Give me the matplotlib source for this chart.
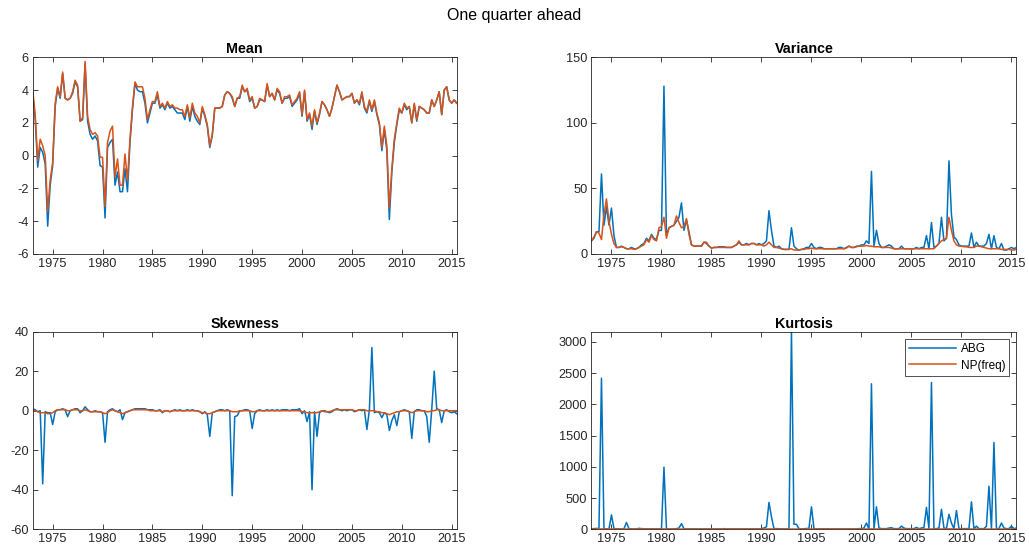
import matplotlib
matplotlib.use("Agg")
import matplotlib.pyplot as plt
import numpy as np

plt.rcParams['font.family'] = ['Liberation Sans', 'DejaVu Sans']
plt.rcParams['axes.unicode_minus'] = False

# quarterly dates, 1973Q1 .. 2015Q3
quarters = 1973 + 0.25 * np.arange(171)

# --- Mean ---
mean_abg = [
    3.8, 2.2, -0.7, 0.5,   0.2, -0.5, -4.3, -1.8,   -0.6, 3.0, 4.1, 3.5,
    5.0, 3.5, 3.4, 3.5,    3.8, 4.5, 4.2, 2.1,      2.2, 5.6, 2.1, 1.3,
    1.0, 1.2, 0.9, -0.6,   -0.7, -3.8, 0.5, 0.8,    1.0, -1.8, -1.0, -2.2,
    -2.2, -0.8, -2.2, 0.8, 2.8, 4.4, 4.0, 3.9,      3.9, 3.2, 2.0, 2.6,
    3.2, 3.2, 3.7, 2.9,    3.1, 2.8, 3.2, 2.9,      3.0, 2.8, 2.6, 2.6,
    2.6, 2.2, 3.0, 2.1,    3.0, 2.4, 2.1, 1.9,      2.9, 2.4, 1.8, 0.5,
    1.2, 2.9, 2.9, 2.9,    3.0, 3.7, 3.9, 3.8,      3.5, 3.0, 3.5, 3.5,
    4.2, 3.9, 4.0, 3.3,    3.5, 2.9, 3.0, 3.4,      3.4, 3.3, 4.3, 3.6,
    3.8, 3.4, 4.0, 3.8,    3.2, 3.5, 3.5, 3.6,      3.0, 3.2, 3.4, 3.8,
    2.4, 3.9, 2.1, 2.5,    1.6, 2.7, 1.9, 2.5,      3.3, 3.1, 2.8, 2.4,
    2.9, 3.6, 4.3, 3.9,    3.4, 3.5, 3.6, 3.6,      3.8, 3.2, 3.4, 3.1,
    3.8, 2.9, 2.6, 3.3,    2.7, 3.3, 2.5, 1.9,      0.3, 1.6, 0.3, -3.9,
    -1.0, 0.8, 1.9, 2.8,   2.6, 3.1, 2.8, 3.0,      2.0, 3.1, 2.1, 3.0,
    2.9, 2.8, 2.6, 2.6,    3.4, 3.0, 3.4, 3.9,      2.5, 4.0, 4.2, 3.4,
    3.2, 3.4, 3.2,
]
mean_np = [
    4.0, 2.5, -0.3, 1.0,   0.6, 0.0, -3.4, -1.5,    -0.4, 3.2, 4.2, 3.6,
    5.1, 3.5, 3.4, 3.5,    3.9, 4.6, 4.3, 2.1,      2.3, 5.75, 2.4, 1.6,
    1.3, 1.4, 1.2, -0.1,   -0.1, -3.1, 0.8, 1.5,    1.8, -1.3, -0.2, -1.8,
    -1.8, 0.1, -1.5, 1.0,  3.0, 4.5, 4.2, 4.2,      4.2, 3.5, 2.2, 2.8,
    3.3, 3.3, 3.9, 3.0,    3.2, 2.9, 3.3, 3.0,      3.1, 2.9, 2.9, 2.8,
    2.8, 2.4, 3.1, 2.3,    3.2, 2.6, 2.4, 2.0,      3.0, 2.5, 1.9, 0.6,
    1.3, 2.9, 2.9, 2.9,    3.0, 3.7, 3.9, 3.8,      3.6, 3.0, 3.5, 3.6,
    4.3, 3.9, 4.1, 3.4,    3.6, 2.9, 3.0, 3.5,      3.4, 3.3, 4.4, 3.6,
    3.8, 3.4, 4.1, 3.9,    3.2, 3.6, 3.6, 3.7,      3.1, 3.3, 3.5, 3.9,
    2.5, 4.0, 2.2, 2.6,    1.8, 2.8, 2.0, 2.6,      3.3, 3.1, 2.8, 2.4,
    2.9, 3.6, 4.3, 3.9,    3.4, 3.5, 3.6, 3.6,      3.8, 3.2, 3.4, 3.2,
    3.9, 3.0, 2.7, 3.4,    2.8, 3.4, 2.6, 2.0,      0.5, 1.8, 0.6, -3.2,
    -0.8, 1.0, 2.0, 2.9,   2.6, 3.2, 2.9, 3.0,      2.0, 3.2, 2.2, 3.0,
    2.9, 2.8, 2.6, 2.6,    3.4, 3.0, 3.4, 3.9,      2.5, 4.0, 4.2, 3.4,
    3.2, 3.4, 3.2,
]

# --- Variance ---
var_abg = [
    10, 12, 17, 17,   61, 22, 36, 22,    35, 14, 5, 5,
    6, 5, 4, 4,       5, 4, 4, 5,        7, 8, 12, 10,
    15, 12, 11, 18,   18, 128, 14, 20,   21, 22, 25, 28,
    39, 18, 26, 17,   7, 6, 6, 6,        6, 9, 8, 6,
    4.5, 5, 5, 5.5,   5.5, 5.5, 5, 5,    5, 6, 7, 9,
    7, 7, 8, 7,       8, 8, 7, 8,        7, 8, 10, 33,
    18, 6, 5, 6,      4, 3.5, 3.5, 3.5,  20, 6, 4, 3,
    3.5, 4, 5, 5,     8, 5, 4, 5,        5, 4, 4, 4,
    4, 4, 4, 5,       5, 4, 5, 6,        5, 5, 6, 6,
    7, 7, 10, 8,      63, 6, 18, 8,      5, 5, 6, 7,
    6, 4, 4, 4,       6, 4, 4, 4,        4, 4, 5, 4,
    5, 5, 14, 4,      24, 5, 6, 8,       28, 10, 12, 71,
    30, 13, 11, 7,    6, 6, 6, 6,        16, 5, 9, 6,
    6, 6, 8, 15,      4, 14, 5, 4,       8, 3, 3, 4,
    5, 4, 5,
]
var_np = [
    10, 13, 17, 16,   11, 30, 42, 25,    15, 8, 5, 5,
    5.5, 5, 4, 4,     4, 3.5, 4, 5,      6, 7, 11, 9,
    14, 11, 10, 20,   21, 28, 12, 20,    21, 22, 29, 24,
    20, 21, 27, 15,   7, 6, 6, 6,        6, 9, 9, 6,
    4.5, 5, 5, 5,     5, 5, 5, 5,        5, 6, 7, 10,
    7, 7, 7, 7,       8, 8, 7, 7,        7, 6, 7, 9,
    7, 5, 5, 4.5,     4, 3.5, 3.5, 3.5,  4, 3, 3, 3,
    3.5, 3.5, 4, 4,   4.5, 4, 4, 4,      4, 4, 4, 4,
    4, 4, 4, 4,       4, 4, 4.5, 6,      5, 5, 5.5, 6,
    6, 6, 6.5, 6,     6, 5.5, 5.5, 5.5,  5, 5, 5, 5,
    4.5, 4, 4, 4,     4, 4, 4, 4,        4, 4, 4, 4,
    4, 4, 4, 4,       4, 4, 6, 8,        10, 11, 12, 28,
    18, 10, 7, 6,     6, 5.5, 5.5, 5,    5, 5, 6, 6,
    5.5, 5, 4.5, 4,   4, 4, 4, 4,        3.5, 3.5, 3.5, 3.5,
    3, 3, 3.5,
]

# --- Skewness ---
skew_abg = [
    1.0, 0.5, -0.5, 0.0,    -37, -0.5, -1.0, -1.0,   -7, -0.5, 0.5, 0.5,
    1.0, 0.5, -3.0, 0.0,    0.5, 1.0, 1.0, -1.0,     0.0, 2.0, 0.5, -0.5,
    -0.5, 0.0, -0.5, -0.5,  -1.0, -16, -0.5, 0.5,    1.0, 0.0, -0.5, 0.5,
    -4.5, -1.0, -0.5, 0.0,  0.5, 1.0, 1.0, 1.0,      1.0, 1.0, 0.5, 0.5,
    0.5, 0.0, 0.0, 0.5,     -1.0, 0.0, 0.0, -0.5,    0.0, 0.5, 0.0, 0.5,
    0.0, 0.0, 0.5, 0.0,     0.5, 0.0, 0.0, -0.5,     -1.5, -0.5, -2.0, -13,
    -1.0, -0.5, 0.0, 0.5,   0.5, 0.0, 0.5, 0.0,      -43, -3.0, -2.5, 0.0,
    0.0, 0.5, 0.5, 0.0,     -9, -1.5, 0.0, 0.5,      0.0, 0.0, 0.5, 0.0,
    0.5, 0.0, 0.5, 0.0,     0.5, 0.5, 0.5, 0.0,      0.5, 0.5, 0.5, 1.0,
    -1.5, 0.0, -5.5, -0.5,  -40, -0.5, -13, -1.0,    0.0, 0.0, -0.5, -1.0,
    -0.5, 0.5, 1.0, 0.5,    0.0, 0.5, 0.0, 0.5,      0.5, -0.5, 0.0, 0.5,
    0.0, 0.5, -9.5, 0.5,    32, -1.0, -0.5, -1.0,    -3.5, -1.0, -2.0, -10,
    -5.0, -2.0, -7.5, -0.5, 0.0, 0.5, 0.0, -0.5,     -14, -0.5, 0.5, 0.5,
    0.0, 0.0, -3.0, -16,    0.5, 20, 1.0, 0.5,       -6, 0.0, 0.5, -0.5,
    -1.0, -0.5, -1.5,
]
skew_np = [
    0.5, 0.0, -0.5, -1.0,   -1.0, -1.0, -1.5, -1.5,  -1.0, 0.0, 0.5, 0.5,
    0.5, 0.5, 0.0, 0.0,     0.5, 0.5, 0.5, 0.0,      0.0, 0.5, 0.0, -0.5,
    -0.5, -0.5, -0.5, -0.5, -1.0, -1.5, -1.0, 0.0,   0.5, 0.0, -0.5, -1.0,
    -1.5, -1.0, -0.5, 0.0,  0.5, 0.5, 0.5, 0.5,      0.5, 0.5, 0.5, 0.0,
    0.0, 0.0, 0.0, 0.0,     -0.5, 0.0, 0.0, -0.5,    0.0, 0.0, 0.0, 0.0,
    0.0, 0.0, 0.0, 0.0,     0.0, 0.0, 0.0, -0.5,     -1.0, -1.0, -1.5, -1.5,
    -1.0, -0.5, 0.0, 0.0,   0.0, 0.0, 0.0, 0.0,      -0.5, -0.5, -0.5, 0.0,
    0.0, 0.0, 0.0, 0.0,     -0.5, -0.5, 0.0, 0.0,    0.0, 0.0, 0.0, 0.0,
    0.0, 0.0, 0.0, 0.0,     0.0, 0.0, 0.0, 0.0,      0.0, 0.0, 0.0, 0.0,
    -0.5, -0.5, -1.0, -1.0, -1.0, -1.0, -1.0, -0.5,  0.0, -0.5, -0.5, -0.5,
    0.0, 0.5, 0.5, 0.5,     0.5, 0.5, 0.5, 0.5,      0.5, 0.0, 0.0, 0.5,
    0.5, 0.5, 0.0, 0.0,     0.0, 0.0, -0.5, -0.5,    -1.0, -1.0, -1.5, -2.0,
    -1.5, -1.0, -0.5, -0.5, 0.0, 0.0, 0.0, -0.5,     -1.0, -0.5, 0.0, 0.0,
    0.0, 0.0, -0.5, -0.5,   0.0, 0.0, 0.5, 0.5,      0.0, 0.0, 0.0, 0.0,
    0.0, 0.0, 0.0,
]

# --- Kurtosis ---
kurt_abg = [
    8, 10, 12, 15,     2420, 10, 8, 6,    230, 10, 8, 6,
    6, 8, 110, 10,     6, 5, 5, 15,       10, 8, 6, 5,
    8, 6, 5, 6,        8, 995, 8, 6,      6, 5, 10, 20,
    90, 10, 6, 5,      5, 5, 5, 5,        5, 5, 5, 5,
    5, 5, 5, 5,        5, 10, 5, 5,       5, 5, 5, 5,
    5, 5, 5, 5,        5, 5, 5, 5,        10, 20, 40, 430,
    200, 10, 10, 8,    5, 5, 5, 5,        3165, 80, 80, 10,
    5, 8, 10, 15,      360, 10, 5, 5,     8, 5, 5, 5,
    5, 5, 5, 5,        5, 5, 5, 5,        5, 5, 5, 10,
    10, 20, 100, 5,    2330, 5, 360, 20,  10, 10, 10, 20,
    25, 10, 10, 10,    50, 20, 10, 10,    10, 10, 30, 10,
    20, 30, 350, 10,   2350, 10, 10, 20,  320, 20, 10, 240,
    100, 10, 300, 10,  10, 10, 10, 10,    440, 10, 50, 10,
    10, 10, 50, 690,   10, 1390, 10, 10,  100, 20, 10, 10,
    50, 10, 20,
]
kurt_np = [
    4, 4, 5, 5,   6, 6, 7, 6,   5, 4, 4, 4,
    4, 4, 4, 4,   4, 4, 4, 4,   4, 4, 4, 4,
    4, 4, 4, 4,   5, 6, 5, 4,   4, 4, 4, 5,
    5, 5, 4, 4,   4, 4, 4, 4,   4, 4, 4, 4,
    4, 4, 4, 4,   4, 4, 4, 4,   4, 4, 4, 4,
    4, 4, 4, 4,   4, 4, 4, 4,   4, 5, 5, 6,
    5, 4, 4, 4,   4, 4, 4, 4,   5, 5, 4, 4,
    4, 4, 4, 4,   4, 4, 4, 4,   4, 4, 4, 4,
    4, 4, 4, 4,   4, 4, 4, 4,   4, 4, 4, 4,
    4, 4, 5, 5,   6, 5, 5, 4,   4, 4, 4, 4,
    4, 4, 4, 4,   4, 4, 4, 4,   4, 4, 4, 4,
    4, 4, 4, 4,   4, 4, 4, 5,   5, 6, 6, 7,
    6, 5, 5, 4,   4, 4, 4, 4,   5, 4, 4, 4,
    4, 4, 4, 4,   4, 4, 4, 4,   4, 4, 4, 4,
    4, 4, 4,
]

blue = '#0072BD'
orange = '#D95319'
dark = '#262626'

fig = plt.figure(figsize=(10.29, 5.53), dpi=100)

panels = [
    ('Mean', mean_abg, mean_np, (-6, 6), np.arange(-6, 7, 2), [0.0318, 0.5407, 0.412, 0.3557]),
    ('Variance', var_abg, var_np, (0, 150), np.arange(0, 151, 50), [0.5748, 0.5407, 0.413, 0.3557]),
    ('Skewness', skew_abg, skew_np, (-60, 40), np.arange(-60, 41, 20), [0.0318, 0.0429, 0.412, 0.3573]),
    ('Kurtosis', kurt_abg, kurt_np, (0, max(kurt_abg)), np.arange(0, 3001, 500), [0.5748, 0.0429, 0.413, 0.3573]),
]

for title, abg, npf, ylim, yticks, pos in panels:
    ax = fig.add_axes(pos)
    ax.plot(quarters, abg, color=blue, lw=1.1, label='ABG')
    ax.plot(quarters, npf, color=orange, lw=1.1, label='NP(freq)')
    ax.set_xlim(1973, 2015.5)
    ax.set_ylim(*ylim)
    ax.set_yticks(yticks)
    ax.set_xticks(np.arange(1975, 2016, 5))
    ax.set_title(title, fontsize=10.3, fontweight='bold', pad=3)
    ax.tick_params(direction='in', top=True, right=True, length=3.5,
                   width=0.6, colors=dark, labelsize=9.2, pad=3)
    for sp in ax.spines.values():
        sp.set_color(dark)
        sp.set_linewidth(0.6)
    if title == 'Kurtosis':
        leg = ax.legend(loc='upper right', fontsize=8.5, frameon=True,
                        fancybox=False, handlelength=4.0, borderaxespad=0.6,
                        labelspacing=0.4, handletextpad=0.4, borderpad=0.35)
        leg.get_frame().set_edgecolor('black')
        leg.get_frame().set_linewidth(0.6)

fig.suptitle('One quarter ahead', fontsize=11.5, y=0.985)

fig.savefig('out.png', dpi=100)
